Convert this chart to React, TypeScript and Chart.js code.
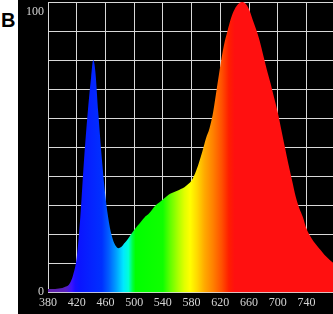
import React, { useEffect, useRef } from "react";
import { Chart, registerables } from "chart.js";

Chart.register(...registerables);

// ---- data ----
const wavelengths = [
  380, 385, 390, 395, 400, 405, 410, 415, 420, 425, 430, 435, 440, 443, 446, 450,
  455, 460, 465, 470, 475, 478, 482, 486, 490, 495, 500, 505, 510, 515, 520, 525,
  530, 535, 540, 545, 550, 555, 560, 565, 570, 575, 580, 585, 590, 595, 600, 605,
  610, 615, 620, 625, 630, 635, 640, 645, 650, 655, 660, 665, 670, 675, 680, 685,
  690, 695, 700, 705, 710, 715, 720, 725, 730, 735, 740, 745, 750, 755, 760, 765,
  770, 775, 777,
];
const intensities = [
  1.2, 1.2, 1.2, 1.3, 1.5, 2, 3, 6, 12, 26, 45, 61, 74, 80, 76, 62,
  46, 33, 24, 18.5, 15.8, 15.2, 15.6, 16.8, 18, 19.8, 21.5, 23, 24.5, 26, 27, 28.5,
  30, 31, 32, 33, 34, 34.5, 35, 35.6, 36.2, 37.2, 38.5, 41, 44.5, 48.5, 53, 56.5,
  62, 70, 78, 85, 90, 94.5, 97.5, 99.3, 100, 99.5, 97.5, 94, 90.5, 86.5, 81.5, 76.5,
  72, 67, 62, 56, 50, 44, 38.5, 33, 29, 26, 22, 19.5, 17.5, 16, 14.5, 13,
  11.8, 10.6, 10.2,
];
const xTicks = [380, 420, 460, 500, 540, 580, 620, 660, 700, 740];
const xMin = 380;
const xMax = 777;
const yMin = 0;
const yMax = 100;
const yStep = 10;
const yLabelValues = [100, 0];
const panelLabel = "B";

// spectrum colours by wavelength
const stopWavelengths = [380, 405, 413, 418, 425, 455, 465, 475, 485, 492, 498, 502, 540, 550, 562, 570, 578, 588, 598, 610, 622, 632, 640, 777];
const stopColors = [
  "#5e22a4", "#5a20c0", "#3a12ff", "#1a10ff", "#0a16ff", "#0030ff", "#0060ff", "#00a0ff",
  "#00e8ff", "#00ffd8", "#00ff40", "#00ff00", "#10ff00", "#60ff00", "#b0ff00", "#e0ff00",
  "#ffff00", "#ffd800", "#ffaa00", "#ff8000", "#ff5000", "#ff1e00", "#ff1010", "#ff1010",
];

export default function App() {
  const ref = useRef<HTMLCanvasElement>(null);

  useEffect(() => {
    const canvas = ref.current!;
    const points = wavelengths.map((w, i) => ({ x: w, y: intensities[i] }));

    const yLabelPlugin = {
      id: "yLabels",
      afterDraw(chart: any) {
        const ctx = chart.ctx;
        const ys = chart.scales.y;
        const left = chart.chartArea.left;
        ctx.save();
        ctx.font = '12px "Liberation Serif"';
        ctx.fillStyle = "#d4d4d4";
        ctx.textAlign = "right";
        ctx.textBaseline = "middle";
        yLabelValues.forEach((v) => {
          const py = ys.getPixelForValue(v) + (v === yMax ? 10 : -1);
          ctx.fillText(String(v), left - 4, py);
        });
        ctx.restore();
      },
    };

    const chart = new Chart(canvas, {
      type: "line",
      data: {
        datasets: [
          {
            data: points,
            fill: "origin",
            borderWidth: 0,
            pointRadius: 0,
            cubicInterpolationMode: "monotone",
            backgroundColor: (c: any) => {
              const ch = c.chart;
              const area = ch.chartArea;
              if (!area) return "#f00";
              const xs = ch.scales.x;
              const x0 = xs.getPixelForValue(xMin);
              const x1 = xs.getPixelForValue(xMax);
              const g = ch.ctx.createLinearGradient(x0, 0, x1, 0);
              stopWavelengths.forEach((w, i) => {
                const p = (xs.getPixelForValue(w) - x0) / (x1 - x0);
                g.addColorStop(Math.max(0, Math.min(1, p)), stopColors[i]);
              });
              return g;
            },
          },
        ],
      },
      options: {
        responsive: false,
        animation: false,
        devicePixelRatio: 1,
        layout: { padding: { left: 30, top: 2, right: 0, bottom: 0 } },
        plugins: { legend: { display: false }, tooltip: { enabled: false } },
        scales: {
          x: {
            type: "linear",
            min: xMin,
            max: xMax,
            z: 1,
            afterBuildTicks: (s: any) => {
              s.ticks = xTicks.map((v) => ({ value: v }));
            },
            grid: { color: "#d8d8d8", lineWidth: 1, drawTicks: false },
            border: { display: false },
            ticks: {
              color: "#d4d4d4",
              padding: 6,
              maxRotation: 0,
              autoSkip: false,
              font: { family: '"Liberation Serif"', size: 12, lineHeight: 0.8 },
            },
          },
          y: {
            type: "linear",
            min: yMin,
            max: yMax,
            z: 1,
            grid: { color: "#d8d8d8", lineWidth: 1, drawTicks: false },
            border: { display: false },
            ticks: { display: false, stepSize: yStep },
          },
        },
      },
      plugins: [yLabelPlugin],
    } as any);

    return () => chart.destroy();
  }, []);

  return (
    <div style={{ position: "fixed", left: 0, top: 0, width: 333, height: 314, background: "#fff", overflow: "hidden" }}>
      <div
        style={{
          position: "absolute",
          left: 1,
          top: 10,
          fontFamily: '"Liberation Sans", Arial, sans-serif',
          fontWeight: "bold",
          fontSize: 20,
          lineHeight: "20px",
          color: "#000",
        }}
      >
        {panelLabel}
      </div>
      <div style={{ position: "absolute", left: 18, top: 0, width: 315, height: 314, background: "#000" }}>
        <canvas ref={ref} width={315} height={314} style={{ display: "block" }} />
      </div>
    </div>
  );
}
